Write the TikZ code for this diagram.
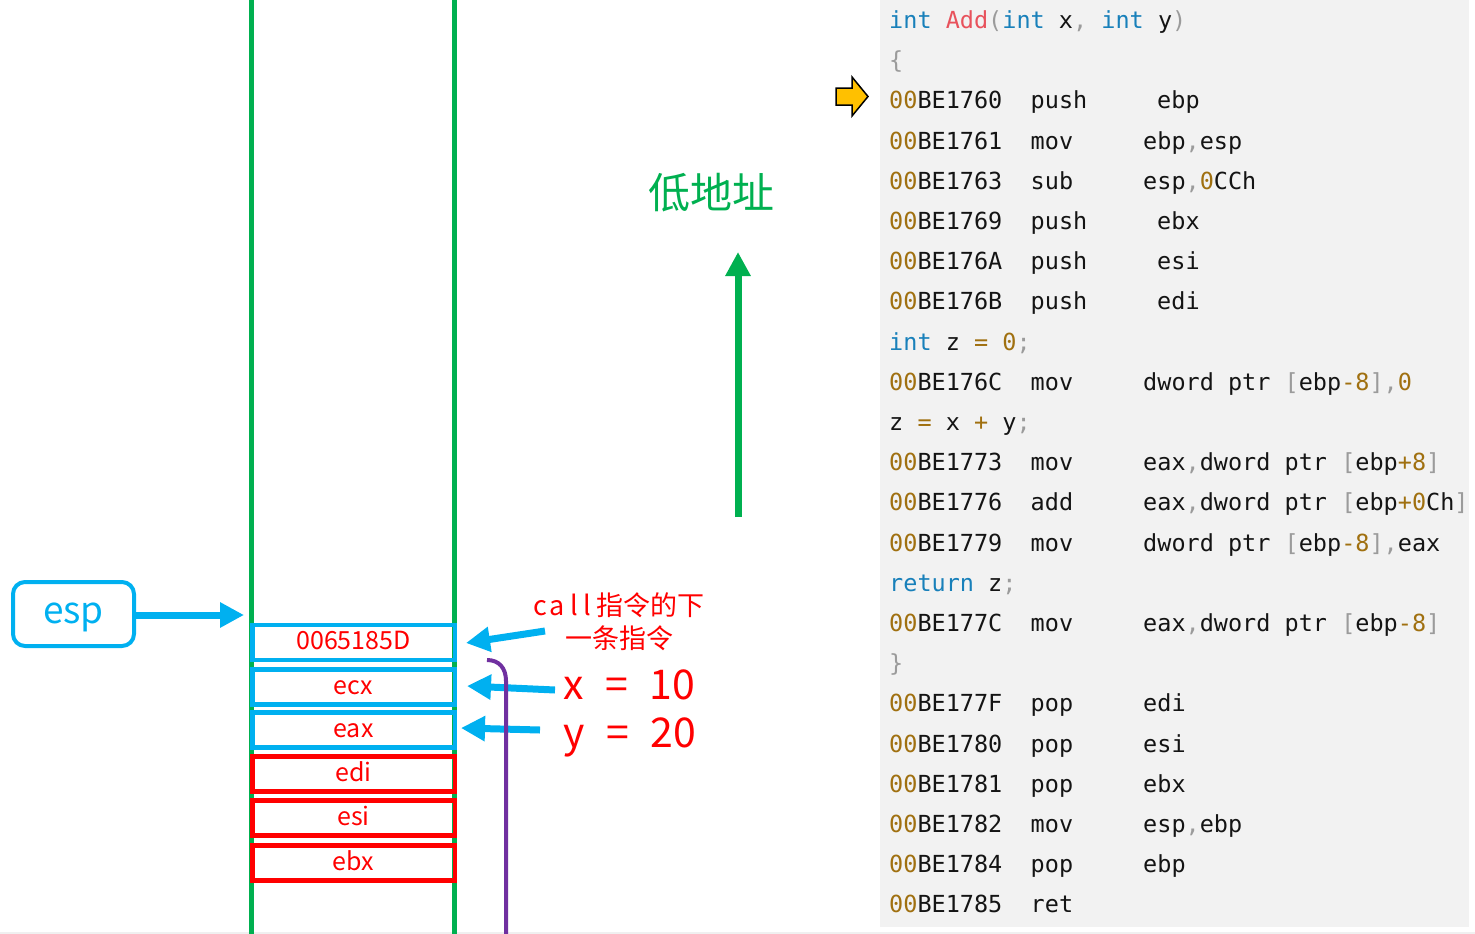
\documentclass[tikz,border=0pt]{standalone}
\usepackage{fontspec}
\setmainfont{Noto Sans CJK SC}
\newfontfamily\codefont{DejaVu Sans Mono}
\usetikzlibrary{arrows.meta}
\definecolor{stkgreen}{HTML}{00B050}
\definecolor{stkblue}{HTML}{00B0F0}
\definecolor{stkred}{HTML}{FF0000}
\definecolor{stkpurple}{HTML}{7030A0}
\definecolor{stkyellow}{HTML}{FFC000}
\definecolor{codebg}{HTML}{F2F2F2}
\definecolor{codeblack}{HTML}{141414}
\definecolor{codegold}{RGB}{160,112,16}
\definecolor{codeblue}{RGB}{24,128,186}
\definecolor{codeadd}{RGB}{232,82,92}
\definecolor{codegray}{RGB}{155,155,155}
\newcommand\ckw[1]{\textcolor{codeblue}{#1}}
\newcommand\cpu[1]{\textcolor{codegray}{#1}}
\newcommand\cnum[1]{\textcolor{codegold}{#1}}
\newcommand\addr[1]{\textcolor{codegold}{00}BE#1}
\newcommand\asmline[6]{%
  \node[code] (#1a) at (889,#2) {\addr{#3}};
  \node[code] (#1m) at (1030.5,#2) {#4};
  \node[code] (#1o) at (#5,#2) {#6};}
\tikzset{
  code/.style={anchor=base west, inner sep=0pt, text=codeblack,
    font=\codefont\fontsize{23.5}{23.5}\selectfont},
  slot/.style={draw, line width=4.5pt, minimum width=202.5pt, minimum height=35pt,
    inner sep=0pt, text height=14pt, text depth=0pt, text=stkred,
    font=\fontsize{25}{25}\selectfont},
  blueslot/.style={slot, draw=stkblue},
  redslot/.style={slot, draw=stkred},
  fatarrow/.style={line width=7pt, -{Triangle[length=24pt,width=24pt]}},
}
\begin{document}
\begin{tikzpicture}[x=1pt,y=-1pt]
\useasboundingbox (0,0) rectangle (1475,934);
% code background
\fill[codebg] (880,0) rectangle (1469,927);
\draw[gray!12, line width=1.5pt] (0,933) -- (1475,933);
% stack walls
\draw[stkgreen, line width=5pt] (251.5,0) -- (251.5,934);
\draw[stkgreen, line width=5pt] (454.5,0) -- (454.5,934);
% stack slots
\node[blueslot] (s1) at (353.5,642.5) {0065185D};
\node[blueslot] (s2) at (353.5,687) {ecx};
\node[blueslot] (s3) at (353.5,730) {eax};
\node[redslot] (s4) at (353.5,774) {edi};
\node[redslot] (s5) at (353.5,818) {esi};
\node[redslot] (s6) at (353.5,863) {ebx};
% esp
\node[draw=stkblue, line width=4pt, rounded corners=12pt, minimum width=121pt,
  minimum height=64pt, inner sep=0pt, text height=18pt, text depth=0pt,
  text=stkblue, font=\fontsize{37}{37}\selectfont] (esp) at (73.5,614) {esp};
\coordinate (esptip) at (244,615);
\draw[stkblue, fatarrow] (esp.east |- esptip) -- (esptip);
% labels on the right of the stack
\node[text=stkred, align=center, inner sep=0pt, font=\fontsize{27}{33}\selectfont]
  (calltxt) at (619,622) {c\kern2pt a\kern6pt l\kern6pt l\kern5pt 指令的下\\一条指令};
\node[text=stkred, anchor=base west, inner sep=0pt, font=\fontsize{41}{41}\selectfont]
  (xtxt) at (563,699) {x\hspace{22pt}=\hspace{21pt}10};
\node[text=stkred, anchor=base west, inner sep=0pt, font=\fontsize{41}{41}\selectfont]
  (ytxt) at (563,747) {y\hspace{22pt}=\hspace{21pt}20};
\coordinate (a1s) at (545,631);
\coordinate (a1e) at (466,643);
\coordinate (a2s) at (555,690);
\coordinate (a2e) at (467,686);
\coordinate (a3s) at (540,730);
\coordinate (a3e) at (461,728);
\draw[stkblue, fatarrow] (a1s) -- (a1e);
\draw[stkblue, fatarrow] (a2s) -- (a2e);
\draw[stkblue, fatarrow] (a3s) -- (a3e);
% purple frame line
\draw[stkpurple, line width=4pt] (487,660) .. controls (499,660) and (506,668) .. (506,681) -- (506,934);
% low address
\node[text=stkgreen, font=\fontsize{42}{42}\selectfont, inner sep=0pt] (low) at (711,193) {低地址};
\coordinate (gbot) at (738,517);
\coordinate (gtop) at (738,252);
\draw[stkgreen, fatarrow] (gbot) -- (gtop);
% current instruction marker
\draw[black, line width=1.5pt, fill=stkyellow, line join=miter]
  (836,88) -- (852,88) -- (852,77) -- (868,96.5) -- (852,116) -- (852,105) -- (836,105) -- cycle;
% code listing
\node[code] (c0) at (889,28.5) {\ckw{int}~\textcolor{codeadd}{Add}\cpu{(}\ckw{int}~x\cpu{,}~\ckw{int}~y\cpu{)}};
\node[code] (c1) at (889,68.7) {\cpu{\{}};
\asmline{c2}{108.9}{1760}{push}{1157}{ebp}
\asmline{c3}{149.1}{1761}{mov}{1143}{ebp\cpu{,}esp}
\asmline{c4}{189.3}{1763}{sub}{1143}{esp\cpu{,}\cnum{0}CCh}
\asmline{c5}{229.5}{1769}{push}{1157}{ebx}
\asmline{c6}{269.7}{176A}{push}{1157}{esi}
\asmline{c7}{309.9}{176B}{push}{1157}{edi}
\node[code] (c8) at (889,350.1) {\ckw{int}~z~\cnum{=}~\cnum{0}\cpu{;}};
\asmline{c9}{390.3}{176C}{mov}{1143}{dword~ptr~\cpu{[}ebp\cnum{-8}\cpu{]}\cpu{,}\cnum{0}}
\node[code] (c10) at (889,430.5) {z~\cnum{=}~x~\cnum{+}~y\cpu{;}};
\asmline{c11}{470.7}{1773}{mov}{1143}{eax\cpu{,}dword~ptr~\cpu{[}ebp\cnum{+8}\cpu{]}}
\asmline{c12}{510.9}{1776}{add}{1143}{eax\cpu{,}dword~ptr~\cpu{[}ebp\cnum{+0}Ch\cpu{]}}
\asmline{c13}{551.1}{1779}{mov}{1143}{dword~ptr~\cpu{[}ebp\cnum{-8}\cpu{]}\cpu{,}eax}
\node[code] (c14) at (889,591.3) {\ckw{return}~z\cpu{;}};
\asmline{c15}{631.5}{177C}{mov}{1143}{eax\cpu{,}dword~ptr~\cpu{[}ebp\cnum{-8}\cpu{]}}
\node[code] (c16) at (889,671.7) {\cpu{\}}};
\asmline{c17}{711.9}{177F}{pop}{1143}{edi}
\asmline{c18}{752.1}{1780}{pop}{1143}{esi}
\asmline{c19}{792.3}{1781}{pop}{1143}{ebx}
\asmline{c20}{832.5}{1782}{mov}{1143}{esp\cpu{,}ebp}
\asmline{c21}{872.7}{1784}{pop}{1143}{ebp}
\node[code] (c22a) at (889,912.9) {\addr{1785}};
\node[code] (c22m) at (1030.5,912.9) {ret};
\end{tikzpicture}
\end{document}
